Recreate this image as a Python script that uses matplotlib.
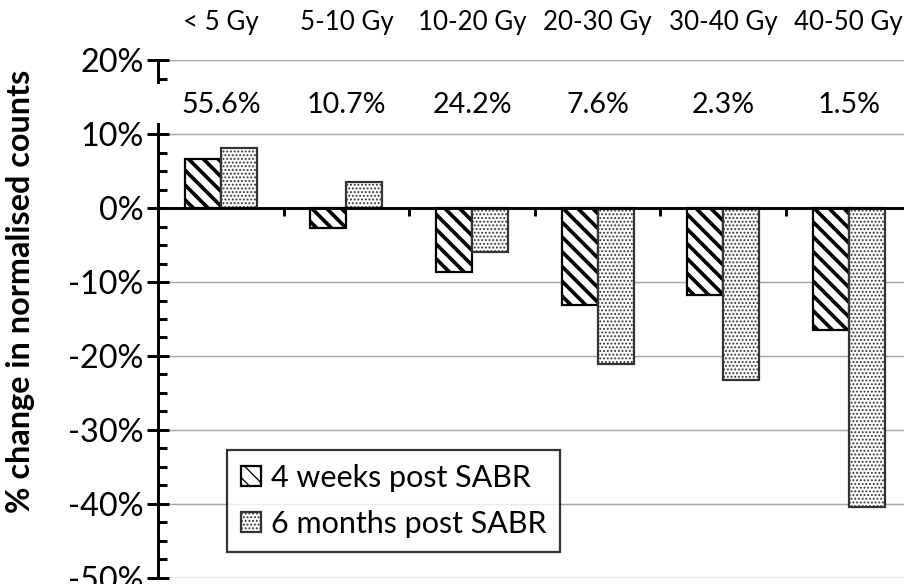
import matplotlib
matplotlib.use("Agg")
import matplotlib.pyplot as plt
import matplotlib.transforms as mtransforms
from matplotlib.ticker import FixedLocator, FuncFormatter

# data
categories = ["< 5 Gy", "5-10 Gy", "10-20 Gy", "20-30 Gy", "30-40 Gy", "40-50 Gy"]
share = ["55.6%", "10.7%", "24.2%", "7.6%", "2.3%", "1.5%"]
weeks4 = [6.7, -2.7, -8.7, -13.1, -11.8, -16.5]
months6 = [8.1, 3.5, -5.9, -21.1, -23.2, -40.4]

plt.rcParams['font.family'] = ['Lato', 'DejaVu Sans']

dpi = 133
fig = plt.figure(figsize=(904 / dpi, 584 / dpi), dpi=dpi)
ax = fig.add_axes([158 / 904, 6.3 / 584, 753.6 / 904, 517.4 / 584])

x = list(range(len(categories)))
w = 0.287

plt.rcParams['hatch.linewidth'] = 2.0
b1 = ax.bar([i - w / 2 for i in x], weeks4, w, color='white', edgecolor='black',
            hatch='\\\\\\', linewidth=1.2, label='4 weeks post SABR', zorder=3)
plt.rcParams['hatch.linewidth'] = 0.7
b2 = ax.bar([i + w / 2 for i in x], months6, w, color='white', edgecolor='#333333',
            hatch='......', linewidth=1.2, label='6 months post SABR', zorder=3)

ax.set_xlim(-0.5, len(categories) - 0.5)
ax.set_ylim(-50, 20)

# y axis
ax.set_yticks([20, 10, 0, -10, -20, -30, -40, -50])
ax.yaxis.set_major_formatter(FuncFormatter(lambda v, p: f"{v:.0f}%"))
minor = [17.5] + [m / 10 for m in range(75, -500, -25) if m % 100 != 0]
ax.yaxis.set_minor_locator(FixedLocator(minor))
ax.tick_params(axis='y', which='major', direction='inout', length=11.5, width=1.6,
               labelsize=17.5, pad=2)
ax.tick_params(axis='y', which='minor', direction='in', length=4.8, width=1.6)
ax.grid(axis='y', color='#a6a6a6', linewidth=0.8, zorder=0)

# broken left axis line
tr = mtransforms.blended_transform_factory(ax.transAxes, ax.transData)
ax.spines['left'].set_visible(False)
ax.plot([0, 0], [20, 17.1], color='black', lw=1.6, transform=tr, clip_on=False, zorder=5)
ax.plot([0, 0], [11.4, -50], color='black', lw=1.6, transform=tr, clip_on=False, zorder=5)

# x axis on zero line
for s in ['top', 'right']:
    ax.spines[s].set_visible(False)
ax.spines['bottom'].set_position(('data', 0))
ax.spines['bottom'].set_linewidth(1.6)
ax.spines['bottom'].set_zorder(4)
ax.set_xticks([i + 0.5 for i in x[:-1]])
ax.set_xticklabels([])
ax.tick_params(axis='x', direction='out', length=4.3, width=1.6)

# category labels on top and share labels
for i, c in enumerate(categories):
    ax.text(i, 25.1, c, ha='center', va='center', fontsize=14, clip_on=False)
    ax.text(i, 13.9, share[i], ha='center', va='center', fontsize=15.5)

ax.set_ylabel('% change in normalised counts', fontsize=17.5, fontweight='bold')
ax.yaxis.set_label_coords(-0.163, 0.553)

leg = ax.legend(loc='upper left', bbox_to_anchor=(227 / 904, 1 - 450 / 584),
                bbox_transform=fig.transFigure, fontsize=16.5, frameon=True,
                fancybox=False, edgecolor='black', borderaxespad=0,
                handlelength=0.65, handleheight=0.65, handletextpad=0.35,
                labelspacing=0.6, borderpad=0.45)
leg.get_frame().set_linewidth(1.2)
leg.set_zorder(6)

fig.savefig('out.png', dpi=dpi)
